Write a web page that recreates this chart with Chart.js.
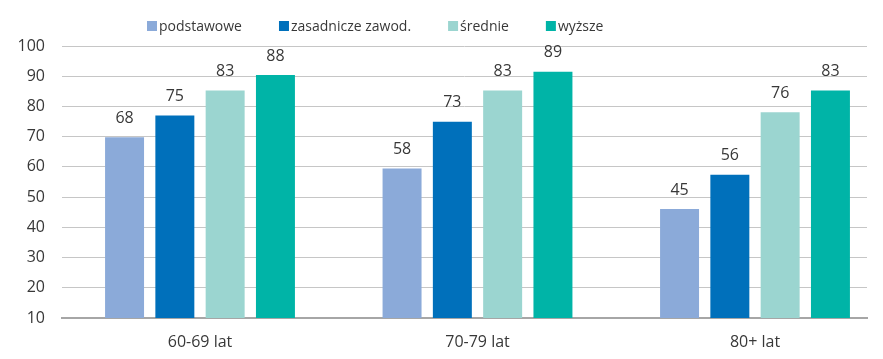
<!DOCTYPE html>
<html>
<head>
<meta charset="utf-8">
<script src="https://cdn.jsdelivr.net/npm/chart.js@4/dist/chart.umd.min.js"></script>
<style>
html,body{margin:0;padding:0;background:#fff;overflow:hidden;}
#wrap{position:relative;width:883px;height:359px;}
</style>
</head>
<body>
<div id="wrap"><canvas id="c" width="883" height="359"></canvas></div>
<script>
const categories = ["60-69 lat", "70-79 lat", "80+ lat"];
const seriesNames = ["podstawowe", "zasadnicze zawod.", "średnie", "wyższe"];
const podstawowe = [68, 58, 45];
const zasadnicze = [75, 73, 56];
const srednie = [83, 83, 76];
const wyzsze = [88, 89, 83];
const yTicks = [10, 20, 30, 40, 50, 60, 70, 80, 90, 100];
const colors = ["#8BAAD9", "#0070BB", "#9BD5D0", "#00B4A7"];

const seriesValues = [podstawowe, zasadnicze, srednie, wyzsze];
const FONT = "'Open Sans', 'Noto Sans', sans-serif";

const datasets = seriesValues.map((vals, i) => ({
  label: seriesNames[i],
  data: vals.map((v, j) => ({x: j, y: v})),
  backgroundColor: colors[i],
  borderWidth: 0,
  yAxisID: 'yb',
  categoryPercentage: 0.725,
  barPercentage: 0.775
}));

const valueLabels = {
  id: 'valueLabels',
  afterDatasetsDraw(chart) {
    const ctx = chart.ctx;
    ctx.save();
    ctx.font = "16px " + FONT;
    ctx.fillStyle = "#383838";
    ctx.textAlign = "center";
    ctx.textBaseline = "middle";
    chart.data.datasets.forEach((ds, di) => {
      const meta = chart.getDatasetMeta(di);
      meta.data.forEach((bar, j) => {
        ctx.fillText(String(ds.data[j].y), bar.x, bar.y - 19);
      });
    });
    ctx.restore();
  }
};

const customLegend = {
  id: 'customLegend',
  afterDraw(chart) {
    const ctx = chart.ctx;
    ctx.save();
    ctx.font = "14px " + FONT;
    ctx.textBaseline = "middle";
    ctx.textAlign = "left";
    let x = 147;
    chart.data.datasets.forEach((ds) => {
      ctx.fillStyle = ds.backgroundColor;
      ctx.fillRect(x, 21, 10, 10);
      ctx.fillStyle = "#383838";
      ctx.fillText(ds.label, x + 12, 27.5);
      x += 12 + ctx.measureText(ds.label).width + 37;
    });
    ctx.restore();
  }
};

new Chart(document.getElementById('c'), {
  type: 'bar',
  data: { datasets },
  options: {
    responsive: false,
    animation: false,
    layout: { padding: { left: 17, right: 16, top: 46, bottom: 0 } },
    plugins: {
      legend: { display: false },
      tooltip: { enabled: false }
    },
    scales: {
      x: {
        type: 'linear',
        offset: false,
        min: -0.4973,
        max: 2.4036,
        grid: { display: false, drawTicks: false },
        border: { display: true, color: '#A6A6A6', width: 2 },
        afterBuildTicks: (scale) => { scale.ticks = categories.map((c, i) => ({value: i})); },
        afterFit: (scale) => { scale.height = 41; },
        ticks: {
          padding: 15,
          color: '#383838',
          font: { size: 16, family: FONT },
          callback: (v) => categories[v] ?? ''
        }
      },
      y: {
        min: 10,
        max: 100,
        afterBuildTicks: (scale) => { scale.ticks = yTicks.map(v => ({value: v})); },
        afterFit: (scale) => { scale.width = 45; },
        grid: { color: '#C6C6C6', lineWidth: 1, drawTicks: false },
        border: { display: false },
        ticks: {
          padding: 17,
          color: '#383838',
          font: { size: 16, family: FONT }
        }
      },
      yb: {
        display: false,
        min: 10,
        max: 97.3
      }
    }
  },
  plugins: [valueLabels, customLegend]
});
</script>
</body>
</html>
